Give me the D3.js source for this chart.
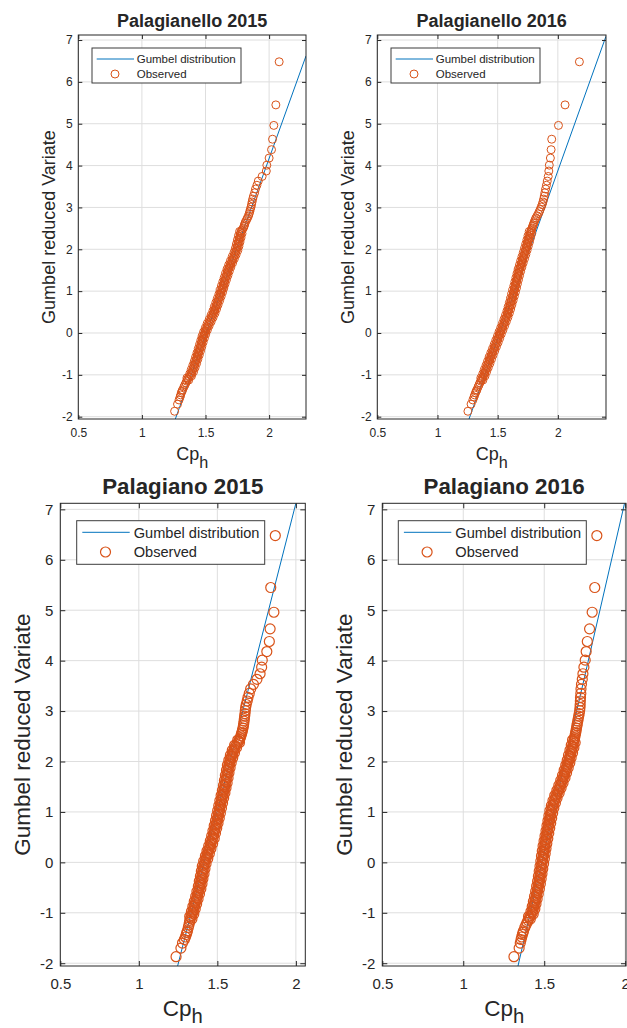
<!DOCTYPE html>
<html>
<head>
<meta charset="utf-8">
<script src="https://cdn.jsdelivr.net/npm/d3@7"></script>
<style>
  body { margin: 0; background: #fff; }
  svg text { font-family: "Liberation Sans", Arial, Helvetica, sans-serif; fill: #262626; }
</style>
</head>
<body>
<div id="chart"></div>
<script>
// Gumbel reduced variate of each observed point (same plotting positions in all four panels)
const reducedVariate = [
  -1.87, -1.70, -1.60, -1.53, -1.48, -1.43, -1.39, -1.36, -1.29, -1.24, -1.19,
  -1.15, -1.10, -1.05, -1.00, -0.95, -0.90, -0.85, -0.80, -0.75, -0.70, -0.65, -0.60,
  -0.55, -0.50, -0.45, -0.40, -0.35, -0.30, -0.25, -0.20, -0.15, -0.10, -0.05,
  0.00, 0.05, 0.10, 0.15, 0.20, 0.25, 0.30, 0.35, 0.40, 0.45, 0.50, 0.55, 0.60, 0.65,
  0.70, 0.75, 0.80, 0.85, 0.90, 0.95, 1.00, 1.05, 1.10, 1.15, 1.20, 1.25, 1.30, 1.35,
  1.40, 1.45, 1.50, 1.55, 1.60, 1.65, 1.70, 1.75, 1.80, 1.85, 1.90, 1.95, 2.00, 2.05,
  2.10, 2.15, 2.20, 2.25, 2.30, 2.35, 2.40,
  2.44, 2.47, 2.51, 2.55, 2.58, 2.62, 2.66, 2.71, 2.75, 2.80, 2.85, 2.90, 2.95, 3.01,
  3.07, 3.13, 3.20, 3.27, 3.35, 3.44, 3.53, 3.63, 3.74, 3.87, 4.01, 4.18, 4.38, 4.63,
  4.96, 5.45, 6.48
];

// observed Cp_h, one value per reduced variate above
const cpPalagianello2015 = [
  1.257, 1.280, 1.292, 1.300, 1.305, 1.310, 1.315, 1.320, 1.330, 1.338, 1.346,
  1.352, 1.360, 1.372, 1.385, 1.391, 1.397, 1.403, 1.409, 1.415, 1.421, 1.426, 1.431,
  1.436, 1.442, 1.447, 1.452, 1.457, 1.462, 1.467, 1.472, 1.477, 1.482, 1.488,
  1.493, 1.500, 1.507, 1.514, 1.521, 1.529, 1.537, 1.545, 1.552, 1.560, 1.567, 1.573,
  1.578, 1.584, 1.590, 1.596, 1.602, 1.608, 1.614, 1.620, 1.625, 1.630, 1.635, 1.640,
  1.645, 1.651, 1.656, 1.662, 1.667, 1.672, 1.678, 1.684, 1.691, 1.698, 1.705, 1.712,
  1.719, 1.726, 1.733, 1.739, 1.745, 1.749, 1.753, 1.757, 1.761, 1.765, 1.769, 1.773, 1.777,
  1.783, 1.790, 1.798, 1.803, 1.806, 1.810, 1.815, 1.824, 1.830, 1.838, 1.843, 1.848,
  1.852, 1.858, 1.862, 1.866, 1.871, 1.877, 1.886, 1.893, 1.904, 1.915, 1.945, 1.978,
  1.982, 2.000, 2.019, 2.027, 2.037, 2.053, 2.079
];
const cpPalagianello2016 = [
  1.253, 1.279, 1.294, 1.303, 1.309, 1.316, 1.322, 1.327, 1.337, 1.345, 1.352,
  1.360, 1.368, 1.377, 1.386, 1.392, 1.398, 1.405, 1.412, 1.419, 1.426, 1.432, 1.439,
  1.445, 1.452, 1.459, 1.466, 1.473, 1.480, 1.487, 1.494, 1.500, 1.507, 1.514,
  1.520, 1.527, 1.534, 1.541, 1.548, 1.555, 1.562, 1.568, 1.575, 1.581, 1.587, 1.592,
  1.597, 1.602, 1.607, 1.612, 1.617, 1.622, 1.627, 1.631, 1.636, 1.640, 1.645, 1.649,
  1.653, 1.658, 1.662, 1.667, 1.671, 1.676, 1.680, 1.685, 1.691, 1.696, 1.701, 1.707,
  1.712, 1.718, 1.723, 1.728, 1.733, 1.738, 1.743, 1.748, 1.753, 1.758, 1.762, 1.767, 1.772,
  1.777, 1.781, 1.786, 1.791, 1.795, 1.800, 1.805, 1.812, 1.818, 1.828, 1.838, 1.846,
  1.853, 1.862, 1.870, 1.876, 1.882, 1.887, 1.892, 1.898, 1.905, 1.912, 1.920, 1.925,
  1.929, 1.938, 1.944, 1.949, 2.005, 2.060, 2.179
];
const cpPalagiano2015 = [
  1.237, 1.268, 1.278, 1.290, 1.297, 1.302, 1.306, 1.309, 1.315, 1.319, 1.322,
  1.325, 1.330, 1.337, 1.343, 1.347, 1.351, 1.356, 1.360, 1.365, 1.369, 1.374, 1.378,
  1.382, 1.387, 1.390, 1.393, 1.396, 1.400, 1.403, 1.406, 1.409, 1.412, 1.416,
  1.420, 1.426, 1.431, 1.436, 1.441, 1.446, 1.452, 1.457, 1.462, 1.467, 1.472, 1.476,
  1.480, 1.484, 1.488, 1.492, 1.496, 1.500, 1.503, 1.507, 1.510, 1.514, 1.517, 1.521,
  1.524, 1.528, 1.532, 1.536, 1.540, 1.543, 1.547, 1.550, 1.553, 1.556, 1.559, 1.562,
  1.566, 1.569, 1.572, 1.576, 1.580, 1.585, 1.590, 1.596, 1.602, 1.608, 1.615, 1.625, 1.637,
  1.642, 1.646, 1.650, 1.654, 1.657, 1.660, 1.663, 1.666, 1.668, 1.670, 1.672, 1.674,
  1.676, 1.678, 1.680, 1.684, 1.690, 1.695, 1.703, 1.712, 1.730, 1.752, 1.772, 1.782,
  1.786, 1.815, 1.831, 1.836, 1.860, 1.840, 1.869
];
const cpPalagiano2016 = [
  1.313, 1.345, 1.352, 1.357, 1.361, 1.365, 1.369, 1.372, 1.380, 1.387, 1.394,
  1.400, 1.408, 1.417, 1.426, 1.430, 1.434, 1.437, 1.441, 1.444, 1.448, 1.451, 1.455,
  1.458, 1.461, 1.464, 1.467, 1.470, 1.472, 1.475, 1.477, 1.480, 1.482, 1.485,
  1.487, 1.490, 1.492, 1.494, 1.497, 1.499, 1.502, 1.504, 1.507, 1.510, 1.513, 1.516,
  1.519, 1.522, 1.525, 1.528, 1.531, 1.534, 1.537, 1.540, 1.543, 1.547, 1.551, 1.556,
  1.561, 1.566, 1.572, 1.578, 1.585, 1.591, 1.597, 1.603, 1.609, 1.615, 1.620, 1.625,
  1.630, 1.635, 1.640, 1.645, 1.650, 1.654, 1.658, 1.662, 1.667, 1.671, 1.675, 1.679, 1.683,
  1.686, 1.688, 1.690, 1.693, 1.695, 1.697, 1.699, 1.702, 1.704, 1.707, 1.710, 1.713,
  1.716, 1.719, 1.721, 1.722, 1.723, 1.724, 1.726, 1.727, 1.730, 1.735, 1.739, 1.745,
  1.753, 1.759, 1.766, 1.780, 1.796, 1.812, 1.825
];

// more observed points inside the dense band, read from its left and right sides
const reducedVariateMid = [
  -1.125, -1.075, -1.025, -0.975, -0.925, -0.875, -0.825, -0.775, -0.725, -0.675, -0.625, -0.575,
  -0.525, -0.475, -0.425, -0.375, -0.325, -0.275, -0.225, -0.175, -0.125, -0.075, -0.025, 0.025,
  0.075, 0.125, 0.175, 0.225, 0.275, 0.325, 0.375, 0.425, 0.475, 0.525, 0.575, 0.625,
  0.675, 0.725, 0.775, 0.825, 0.875, 0.925, 0.975, 1.025, 1.075, 1.125, 1.175, 1.225,
  1.275, 1.325, 1.375, 1.425, 1.475, 1.525, 1.575, 1.625, 1.675, 1.725, 1.775, 1.825,
  1.875, 1.925, 1.975, 2.025, 2.075, 2.125, 2.175, 2.225, 2.275, 2.325, 2.375, 2.425
];
const cpPalagianello2015Mid = [
  1.368, 1.354, 1.390, 1.376, 1.406, 1.388, 1.418, 1.400, 1.430, 1.412, 1.440, 1.422,
  1.451, 1.433, 1.461, 1.443, 1.471, 1.453, 1.481, 1.463, 1.491, 1.473, 1.502, 1.485,
  1.515, 1.499, 1.529, 1.513, 1.545, 1.529, 1.560, 1.544, 1.575, 1.558, 1.587, 1.569,
  1.599, 1.581, 1.611, 1.593, 1.623, 1.605, 1.634, 1.615, 1.644, 1.625, 1.654, 1.636,
  1.665, 1.647, 1.676, 1.657, 1.687, 1.669, 1.699, 1.682, 1.713, 1.696, 1.727, 1.710,
  1.741, 1.724, 1.754, 1.735, 1.763, 1.743, 1.771, 1.751, 1.779, 1.759, 1.787, 1.768
];
const cpPalagianello2016Mid = [
  1.377, 1.360, 1.395, 1.376, 1.408, 1.389, 1.422, 1.403, 1.436, 1.416, 1.449, 1.429,
  1.462, 1.443, 1.476, 1.457, 1.490, 1.471, 1.504, 1.484, 1.517, 1.498, 1.530, 1.511,
  1.544, 1.525, 1.558, 1.539, 1.572, 1.552, 1.585, 1.565, 1.597, 1.577, 1.608, 1.587,
  1.618, 1.597, 1.628, 1.607, 1.638, 1.616, 1.647, 1.625, 1.656, 1.634, 1.664, 1.643,
  1.673, 1.652, 1.682, 1.661, 1.691, 1.670, 1.701, 1.681, 1.712, 1.691, 1.723, 1.702,
  1.734, 1.713, 1.744, 1.723, 1.754, 1.733, 1.764, 1.743, 1.773, 1.752, 1.783, 1.762
];
const cpPalagiano2015Mid = [
  1.338, 1.324, 1.350, 1.335, 1.359, 1.344, 1.368, 1.353, 1.377, 1.362, 1.386, 1.370,
  1.395, 1.379, 1.402, 1.385, 1.408, 1.392, 1.415, 1.398, 1.421, 1.404, 1.428, 1.413,
  1.439, 1.424, 1.449, 1.434, 1.459, 1.445, 1.470, 1.455, 1.480, 1.464, 1.488, 1.472,
  1.496, 1.480, 1.504, 1.488, 1.512, 1.495, 1.519, 1.502, 1.526, 1.509, 1.533, 1.516,
  1.540, 1.524, 1.548, 1.532, 1.555, 1.539, 1.562, 1.545, 1.568, 1.551, 1.574, 1.558,
  1.581, 1.564, 1.588, 1.573, 1.598, 1.583, 1.609, 1.595, 1.622, 1.610, 1.641, 1.630
];
const cpPalagiano2016Mid = [
  1.414, 1.403, 1.432, 1.418, 1.442, 1.426, 1.449, 1.433, 1.456, 1.440, 1.463, 1.447,
  1.470, 1.453, 1.476, 1.459, 1.481, 1.464, 1.486, 1.469, 1.491, 1.474, 1.496, 1.479,
  1.501, 1.483, 1.506, 1.488, 1.511, 1.493, 1.516, 1.499, 1.522, 1.505, 1.528, 1.511,
  1.534, 1.517, 1.540, 1.523, 1.546, 1.529, 1.552, 1.535, 1.559, 1.544, 1.569, 1.554,
  1.579, 1.565, 1.592, 1.578, 1.604, 1.590, 1.616, 1.602, 1.628, 1.613, 1.638, 1.623,
  1.648, 1.633, 1.658, 1.642, 1.666, 1.650, 1.675, 1.659, 1.683, 1.667, 1.691, 1.675
];

// fitted Gumbel distribution lines (two end points each)
const fitCpPalagianello2015 = [1.263, 2.29];
const fitVarPalagianello2015 = [-2.055, 6.62];
const fitCpPalagianello2016 = [1.262, 2.40];
const fitVarPalagianello2016 = [-2.055, 7.09];
const fitCpPalagiano2015 = [1.247, 2.0];
const fitVarPalagiano2015 = [-2.055, 7.12];
const fitCpPalagiano2016 = [1.338, 1.996];
const fitVarPalagiano2016 = [-2.055, 7.12];

const titles = ["Palagianello 2015", "Palagianello 2016", "Palagiano 2015", "Palagiano 2016"];
const xTicks = [0.5, 1, 1.5, 2];
const yTicks = [-2, -1, 0, 1, 2, 3, 4, 5, 6, 7];
const xMaxes = [2.29, 2.40, 2.06, 2.005];
const yRange = [-2.055, 7.12];
const legendLabels = ["Gumbel distribution", "Observed"];

const lineColor = "#0072BD";
const dotColor = "#D95319";
const axisColor = "#262626";

const small = {
    tickFont: 12, labelFont: 18, titleFont: 18, legendFont: 11.5, r: 4, dotWidth: 1,
    tickLen: 4, xTickBase: 17.7, yTickGap: 5.6, yLabelOff: 23.8, xLabelBase: 41, subShift: 8,
    titleGap: 7.7, legW: 149, legH: 35, legLine: [4.7, 42], legDot: 23, legText: 44.7, legRows: [11, 26]
};
const big = {
    tickFont: 15, labelFont: 22.5, titleFont: 22.3, legendFont: 14.6, r: 5, dotWidth: 1.2,
    tickLen: 5, xTickBase: 23.3, yTickGap: 7, yLabelOff: 30.3, xLabelBase: 50, subShift: 7,
    titleGap: 9, legW: 188, legH: 43.6, legLine: [5.6, 53], legDot: 28.8, legText: 57, legRows: [11.6, 31.3]
};

const panels = [
    { title: titles[0], cp: cpPalagianello2015, cpMid: cpPalagianello2015Mid,
      fitCp: fitCpPalagianello2015, fitVar: fitVarPalagianello2015,
      xMax: xMaxes[0], left: 78.3, top: 35, right: 306, bottom: 419, legX: 92, legY: 48, st: small },
    { title: titles[1], cp: cpPalagianello2016, cpMid: cpPalagianello2016Mid,
      fitCp: fitCpPalagianello2016, fitVar: fitVarPalagianello2016,
      xMax: xMaxes[1], left: 377.3, top: 35, right: 606, bottom: 419, legX: 391, legY: 48, st: small },
    { title: titles[2], cp: cpPalagiano2015, cpMid: cpPalagiano2015Mid,
      fitCp: fitCpPalagiano2015, fitVar: fitVarPalagiano2015,
      xMax: xMaxes[2], left: 60.3, top: 503.3, right: 305.3, bottom: 966, legX: 76.7, legY: 520.7, st: big },
    { title: titles[3], cp: cpPalagiano2016, cpMid: cpPalagiano2016Mid,
      fitCp: fitCpPalagiano2016, fitVar: fitVarPalagiano2016,
      xMax: xMaxes[3], left: 382.3, top: 503.3, right: 626, bottom: 966, legX: 398.3, legY: 520.7, st: big }
];

const svg = d3.select("#chart")
    .append("svg")
    .attr("width", 627)
    .attr("height", 1028)
    .style("display", "block");

panels.forEach((p, i) => {
    const st = p.st;
    const w = p.right - p.left, h = p.bottom - p.top;

    const x = d3.scaleLinear().domain([0.5, p.xMax]).range([0, w]);
    const y = d3.scaleLinear().domain(yRange).range([h, 0]);

    const g = svg.append("g").attr("transform", `translate(${p.left},${p.top})`);

    g.append("clipPath").attr("id", `clip${i}`)
        .append("rect").attr("width", w).attr("height", h);

    // grid
    g.append("g").selectAll("line")
        .data(xTicks)
        .join("line")
        .attr("x1", d => x(d)).attr("x2", d => x(d))
        .attr("y1", 0).attr("y2", h)
        .attr("stroke", "#dedede").attr("stroke-width", 1);
    g.append("g").selectAll("line")
        .data(yTicks)
        .join("line")
        .attr("x1", 0).attr("x2", w)
        .attr("y1", d => y(d)).attr("y2", d => y(d))
        .attr("stroke", "#dedede").attr("stroke-width", 1);

    // gumbel line
    const fit = d3.zip(p.fitCp, p.fitVar);
    g.append("path")
        .datum(fit)
        .attr("clip-path", `url(#clip${i})`)
        .attr("d", d3.line().x(d => x(d[0])).y(d => y(d[1])))
        .attr("fill", "none")
        .attr("stroke", lineColor)
        .attr("stroke-width", 1);

    // observed points
    const pts = d3.zip(p.cp, reducedVariate).concat(d3.zip(p.cpMid, reducedVariateMid));
    g.append("g").selectAll("circle")
        .data(pts)
        .join("circle")
        .attr("cx", d => x(d[0]))
        .attr("cy", d => y(d[1]))
        .attr("r", st.r)
        .attr("fill", "none")
        .attr("stroke", dotColor)
        .attr("stroke-width", st.dotWidth);

    // axes, ticks pointing inwards on all four sides
    const fmt = d => String(d);
    const xb = g.append("g")
        .attr("transform", `translate(0,${h})`)
        .call(d3.axisBottom(x).tickValues(xTicks).tickFormat(fmt)
            .tickSize(-st.tickLen).tickPadding(st.xTickBase - 0.71 * st.tickFont));
    const yl = g.append("g")
        .call(d3.axisLeft(y).tickValues(yTicks).tickFormat(fmt)
            .tickSize(-st.tickLen).tickPadding(st.yTickGap));
    const xt = g.append("g")
        .call(d3.axisTop(x).tickValues(xTicks).tickFormat(() => "").tickSize(-st.tickLen));
    const yr = g.append("g")
        .attr("transform", `translate(${w},0)`)
        .call(d3.axisRight(y).tickValues(yTicks).tickFormat(() => "").tickSize(-st.tickLen));
    [xb, yl, xt, yr].forEach(a => {
        a.select(".domain").remove();
        a.selectAll(".tick line").attr("stroke", axisColor);
        a.selectAll(".tick text")
            .attr("fill", axisColor)
            .style("font-size", st.tickFont + "px")
            .style("font-family", '"Liberation Sans", Arial, sans-serif');
    });

    g.append("rect")
        .attr("width", w).attr("height", h)
        .attr("fill", "none")
        .attr("stroke", axisColor)
        .attr("stroke-width", 1);

    // title
    g.append("text")
        .attr("x", w / 2)
        .attr("y", -st.titleGap)
        .attr("text-anchor", "middle")
        .style("font-size", st.titleFont + "px")
        .style("font-weight", "bold")
        .attr("fill", "#000")
        .text(p.title);

    // x label Cp_h
    const xl = g.append("text")
        .attr("x", w / 2)
        .attr("y", h + st.xLabelBase)
        .attr("text-anchor", "middle")
        .style("font-size", st.labelFont + "px");
    xl.append("tspan").text("Cp");
    xl.append("tspan")
        .attr("dy", st.subShift)
        .style("font-size", (st.labelFont * 0.9) + "px")
        .text("h");

    // y label
    g.append("text")
        .attr("transform", `translate(${-st.yLabelOff},${h / 2}) rotate(-90)`)
        .attr("text-anchor", "middle")
        .style("font-size", st.labelFont + "px")
        .text("Gumbel reduced Variate");

    // legend
    const lg = svg.append("g").attr("transform", `translate(${p.legX},${p.legY})`);
    lg.append("rect")
        .attr("width", st.legW).attr("height", st.legH)
        .attr("fill", "#fff")
        .attr("stroke", "#3c3c3c")
        .attr("stroke-width", 1);
    lg.append("line")
        .attr("x1", st.legLine[0]).attr("x2", st.legLine[1])
        .attr("y1", st.legRows[0]).attr("y2", st.legRows[0])
        .attr("stroke", lineColor).attr("stroke-width", 1);
    lg.append("circle")
        .attr("cx", st.legDot).attr("cy", st.legRows[1])
        .attr("r", st.r)
        .attr("fill", "none")
        .attr("stroke", dotColor)
        .attr("stroke-width", st.dotWidth);
    lg.selectAll("text.lab")
        .data(legendLabels)
        .join("text")
        .attr("class", "lab")
        .attr("x", st.legText)
        .attr("y", (d, k) => st.legRows[k] + 0.36 * st.legendFont)
        .style("font-size", st.legendFont + "px")
        .attr("fill", "#000")
        .text(d => d);
});
</script>
</body>
</html>
